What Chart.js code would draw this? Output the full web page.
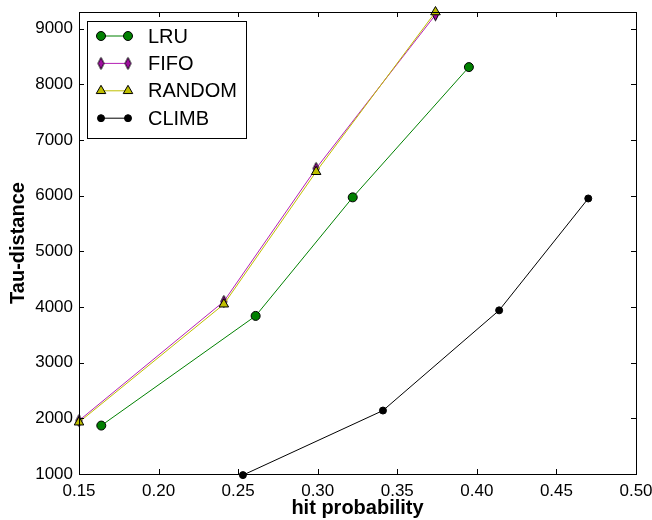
<!DOCTYPE html>
<html>
<head>
<meta charset="utf-8">
<script src="https://cdn.jsdelivr.net/npm/chart.js@4.4.0/dist/chart.umd.min.js"></script>
<style>
html, body { margin: 0; padding: 0; background: #fff; }
</style>
</head>
<body>
<canvas id="myChart" width="652" height="520"></canvas>
<script>
// data
var Series = ['LRU', 'FIFO', 'RANDOM', 'CLIMB'];
var LRU_x = [0.164, 0.261, 0.322, 0.395];
var LRU_y = [1870, 3840, 5970, 8310];
var FIFO_x = [0.150, 0.241, 0.299, 0.374];
var FIFO_y = [1960, 4100, 6490, 9250];
var RANDOM_x = [0.150, 0.241, 0.299, 0.374];
var RANDOM_y = [1930, 4050, 6430, 9300];
var CLIMB_x = [0.253, 0.341, 0.414, 0.470];
var CLIMB_y = [980, 2140, 3940, 5950];
var x_Ticks = [0.15, 0.20, 0.25, 0.30, 0.35, 0.40, 0.45, 0.50];
var y_Ticks = [1000, 2000, 3000, 4000, 5000, 6000, 7000, 8000, 9000];

var FONT = "'Liberation Sans', Arial, sans-serif";

function puntos(xs, ys) {
    var p = [];
    for (let i = 0; i < xs.length; i++) {
        p.push({ x: xs[i], y: ys[i] });
    }
    return p;
}

// thin diamond marker (matplotlib 'd')
function thinDiamond(fill) {
    var c = document.createElement('canvas');
    c.width = 9; c.height = 15;
    var g = c.getContext('2d');
    g.beginPath();
    g.moveTo(4.5, 1.5);
    g.lineTo(7.5, 7.5);
    g.lineTo(4.5, 13.5);
    g.lineTo(1.5, 7.5);
    g.closePath();
    g.fillStyle = fill;
    g.fill();
    g.lineWidth = 1;
    g.strokeStyle = '#000';
    g.stroke();
    return c;
}
var diamante = thinDiamond('#a010a0');

var estilos = [
    { line: '#008000', fill: '#008000', edge: '#000', style: 'circle', r: 4.5 },
    { line: '#b520b5', fill: '#a010a0', edge: '#000', style: diamante, r: 5 },
    { line: '#bfbf00', fill: '#bfbf00', edge: '#000', style: 'triangle', r: 5.5 },
    { line: '#000000', fill: '#000000', edge: '#000', style: 'circle', r: 3.5 }
];
var datos = [puntos(LRU_x, LRU_y), puntos(FIFO_x, FIFO_y), puntos(RANDOM_x, RANDOM_y), puntos(CLIMB_x, CLIMB_y)];

var datasets = [];
for (let i = 0; i < Series.length; i++) {
    datasets.push({
        label: Series[i],
        data: datos[i],
        borderColor: estilos[i].line,
        borderWidth: 1,
        backgroundColor: estilos[i].fill,
        pointBackgroundColor: estilos[i].fill,
        pointBorderColor: estilos[i].edge,
        pointBorderWidth: 1,
        pointStyle: estilos[i].style,
        pointRadius: estilos[i].r,
        tension: 0,
        fill: false,
        clip: false,
        order: Series.length - i
    });
}

// frame, inward ticks and legend inside the axes
const marco = {
    id: 'marco',
    afterDraw(chart) {
        const ctx = chart.ctx;
        const a = chart.chartArea;
        const sx = chart.scales.x, sy = chart.scales.y;
        ctx.save();
        ctx.strokeStyle = '#000';
        ctx.lineWidth = 1;
        ctx.beginPath();
        for (let v of x_Ticks) {
            const px = Math.round(sx.getPixelForValue(v)) + 0.5;
            ctx.moveTo(px, a.bottom); ctx.lineTo(px, a.bottom - 5);
            ctx.moveTo(px, a.top); ctx.lineTo(px, a.top + 5);
        }
        for (let v of y_Ticks) {
            const py = Math.round(sy.getPixelForValue(v)) + 0.5;
            ctx.moveTo(a.left, py); ctx.lineTo(a.left + 5, py);
            ctx.moveTo(a.right, py); ctx.lineTo(a.right - 5, py);
        }
        ctx.stroke();
        ctx.strokeRect(Math.round(a.left) + 0.5, Math.round(a.top) + 0.5,
            Math.round(a.right - a.left), Math.round(a.bottom - a.top));

        // legend
        const bx = 87.5, by = 21.5, bw = 159, bh = 117;
        ctx.fillStyle = '#fff';
        ctx.fillRect(bx, by, bw, bh);
        ctx.strokeRect(bx, by, bw, bh);
        ctx.font = '20px ' + FONT;
        ctx.textBaseline = 'middle';
        ctx.textAlign = 'left';
        for (let i = 0; i < Series.length; i++) {
            const ly = 36 + i * 27.4;
            const e = estilos[i];
            ctx.strokeStyle = e.line;
            ctx.beginPath();
            ctx.moveTo(101, ly); ctx.lineTo(128, ly);
            ctx.stroke();
            for (let mx of [101, 128]) {
                ctx.fillStyle = e.fill;
                ctx.strokeStyle = e.edge;
                ctx.lineWidth = 1;
                Chart.helpers.drawPoint(ctx, { pointStyle: e.style, radius: e.r, rotation: 0, borderWidth: 1 }, mx, ly);
            }
            ctx.fillStyle = '#000';
            ctx.fillText(Series[i], 148, ly + 1);
        }
        ctx.restore();
    }
};

var myChart = new Chart(document.getElementById('myChart'), {
    type: 'line',
    data: { datasets: datasets },
    options: {
        responsive: false,
        animation: false,
        devicePixelRatio: 1,
        layout: { padding: { top: 12, right: 16, left: 0, bottom: 0 } },
        plugins: { legend: { display: false }, tooltip: { enabled: false } },
        scales: {
            x: {
                type: 'linear',
                min: 0.15,
                max: 0.50,
                afterBuildTicks: function (s) { s.ticks = x_Ticks.map(v => ({ value: v })); },
                afterFit: function (s) { s.height = 46; s.paddingLeft = 0; s.paddingRight = 0; },
                grid: { display: false, drawTicks: false },
                border: { display: false },
                ticks: {
                    color: '#000',
                    padding: 7,
                    maxRotation: 0,
                    font: { family: FONT, size: 17 },
                    callback: function (v) { return v.toFixed(2); }
                },
                title: {
                    display: true,
                    text: 'hit probability',
                    color: '#000',
                    font: { family: FONT, size: 20, weight: 'bold' },
                    padding: { top: 3, bottom: 0 }
                }
            },
            y: {
                type: 'linear',
                min: 1000,
                max: 9300,
                afterBuildTicks: function (s) { s.ticks = y_Ticks.map(v => ({ value: v })); },
                afterFit: function (s) { s.width = 79; s.paddingTop = 0; s.paddingBottom = 0; },
                grid: { display: false, drawTicks: false },
                border: { display: false },
                ticks: {
                    color: '#000',
                    padding: 6,
                    font: { family: FONT, size: 17 },
                    callback: function (v) { return String(v); }
                },
                title: {
                    display: true,
                    text: 'Tau-distance',
                    color: '#000',
                    font: { family: FONT, size: 20, weight: 'bold' },
                    padding: { top: 6, bottom: 0 }
                }
            }
        }
    },
    plugins: [marco]
});
</script>
</body>
</html>
